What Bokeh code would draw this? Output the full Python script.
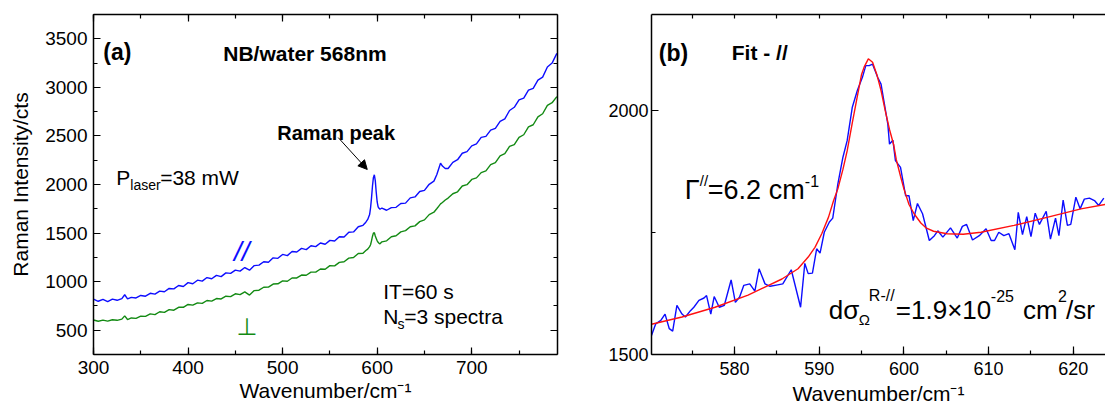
from bokeh.plotting import figure
from bokeh.layouts import row
from bokeh.models import (Range1d, LinearAxis, SingleIntervalTicker, Label,
                          Arrow, NormalHead, ColumnDataSource)
from bokeh.embed import file_html
from bokeh.resources import INLINE

# ---------------- data: panel (a) ----------------
wavenumber_a = [300, 305, 310, 315, 320, 325, 330, 333, 336, 340, 345, 350, 355, 360, 365,
                370, 375, 380, 385, 390, 395, 400, 405, 410, 415, 420, 425, 430, 435, 440,
                445, 450, 455, 460, 465, 470, 475, 480, 485, 490, 495, 500, 505, 510, 515,
                520, 525, 530, 535, 540, 545, 550, 555, 560, 565, 570, 575, 580, 585, 588,
                590, 592, 593, 594, 595, 596, 597, 598, 599, 600, 601, 602, 603, 605, 610,
                615, 620, 625, 630, 635, 640, 645, 650, 655, 660, 663, 665, 667, 669, 672,
                675, 680, 685, 690, 695, 700, 705, 710, 715, 720, 725, 730, 735, 740, 745,
                750, 755, 760, 765, 770, 775, 780, 785, 790]
parallel_a = [820, 798, 818, 795, 820, 808, 826, 865, 822, 838, 832, 858, 850, 880, 872,
              902, 896, 930, 925, 960, 950, 990, 978, 1015, 1005, 1042, 1030, 1065, 1052, 1090,
              1085, 1118, 1108, 1145, 1118, 1165, 1170, 1205, 1200, 1245, 1240, 1280, 1268, 1310, 1305,
              1342, 1330, 1370, 1360, 1398, 1385, 1425, 1418, 1462, 1460, 1508, 1512, 1565, 1580, 1612,
              1640, 1690, 1760, 1860, 1980, 2070, 2100, 2040, 1920, 1820, 1770, 1755, 1745, 1758, 1735,
              1762, 1765, 1805, 1808, 1862, 1872, 1928, 1940, 2002, 2035, 2100, 2160, 2220, 2190, 2165,
              2165, 2228, 2255, 2322, 2338, 2398, 2418, 2485, 2495, 2560, 2578, 2650, 2675, 2762, 2795,
              2872, 2890, 2972, 2990, 3075, 3105, 3210, 3250, 3350]
perpendicular_a = [605, 592, 604, 594, 608, 602, 614, 648, 610, 626, 622, 645, 642, 668, 660,
                   690, 684, 712, 706, 736, 736, 765, 758, 782, 776, 806, 800, 826, 822, 850,
                   846, 875, 866, 895, 862, 908, 912, 942, 944, 975, 978, 1008, 1004, 1038, 1038,
                   1068, 1066, 1098, 1098, 1130, 1128, 1165, 1162, 1198, 1205, 1242, 1248, 1290, 1292, 1320,
                   1335, 1360, 1380, 1420, 1465, 1500, 1505, 1470, 1445, 1420, 1405, 1395, 1390, 1410, 1420,
                   1462, 1472, 1512, 1525, 1565, 1574, 1618, 1636, 1690, 1715, 1750, 1775, 1800, 1815, 1840,
                   1860, 1905, 1925, 1985, 1998, 2052, 2068, 2122, 2140, 2204, 2225, 2295, 2318, 2392, 2410,
                   2485, 2512, 2594, 2615, 2696, 2728, 2815, 2842, 2905]

# ---------------- data: panel (b) ----------------
wavenumber_b = [570.2, 570.7, 571.3, 571.8, 572.3, 572.7, 573.2, 573.8, 574.2, 574.8, 575.2, 575.8,
                576.4, 576.7, 577.2, 577.6, 578.2, 578.8, 579.6, 580.1, 580.6, 581.1, 581.8, 582.4,
                582.9, 583.6, 584.2, 585.1, 585.7, 586.7, 587.8, 588.3, 588.7, 589.2, 589.7, 590.1,
                590.6, 591.2, 591.6, 592.2, 592.8, 593.3, 593.9, 594.5, 595.1, 595.5, 595.9, 596.3,
                596.9, 597.3, 597.7, 598.1, 598.3, 598.7, 599.0, 599.6, 600.2, 600.6, 601.1, 601.6,
                602.2, 603.0, 603.6, 604.0, 604.6, 605.5, 606.3, 606.9, 607.4, 608.1, 608.9, 609.7,
                610.3, 610.7, 611.2, 611.8, 612.4, 613.1, 613.5, 614.0, 614.5, 615.0, 615.5, 616.0,
                616.8, 617.3, 617.9, 618.3, 618.8, 619.3, 619.7, 620.3, 620.8, 621.3, 621.9, 622.5,
                623.0, 623.6]
intensity_b = [1539, 1563, 1570, 1583, 1553, 1548, 1601, 1583, 1577, 1590, 1597, 1611,
               1616, 1621, 1583, 1619, 1597, 1601, 1653, 1607, 1618, 1642, 1645, 1630,
               1676, 1645, 1640, 1643, 1645, 1674, 1597, 1687, 1666, 1667, 1717, 1708,
               1751, 1772, 1780, 1850, 1905, 1939, 2007, 2042, 2069, 2093, 2093, 2096,
               2069, 2055, 2014, 1973, 1932, 1940, 1898, 1884, 1826, 1826, 1775, 1810,
               1789, 1734, 1744, 1754, 1741, 1760, 1739, 1763, 1767, 1735, 1744, 1758,
               1734, 1734, 1751, 1744, 1748, 1715, 1792, 1746, 1783, 1742, 1790, 1767,
               1794, 1737, 1780, 1744, 1817, 1765, 1767, 1823, 1799, 1819, 1821, 1816,
               1806, 1821]
fit_x = [570.2, 573.8, 577.7, 581.6, 585.6, 587.5, 588.7, 589.5, 590.3, 591.1, 591.7, 592.2,
         592.8, 593.3, 593.9, 594.5, 595.0, 595.3, 595.8, 596.3, 596.8, 597.3, 597.8, 598.3,
         598.8, 599.1, 599.6, 600.0, 600.6, 601.2, 602.0, 602.6, 603.5, 605.1, 607.0, 609.1,
         613.0, 617.0, 620.9, 623.8]
fit_y = [1562, 1577, 1597, 1622, 1655, 1676, 1700, 1720, 1748, 1782, 1816, 1840,
         1880, 1918, 1975, 2030, 2075, 2090, 2107, 2100, 2075, 2042, 2000, 1962,
         1930, 1900, 1866, 1840, 1808, 1789, 1770, 1760, 1753, 1748, 1747, 1751,
         1765, 1782, 1799, 1808]

FONT = "Liberation Sans"
BLUE = "#0d0dff"
GREEN = "#138a13"


def style_axis(ax, labels=True, size="19px", major_in=7, minor_in=4, standoff=6):
    ax.axis_line_width = 1.5
    ax.axis_line_color = "black"
    ax.major_tick_in = major_in
    ax.major_tick_out = 0
    ax.minor_tick_in = minor_in
    ax.minor_tick_out = 0
    ax.major_tick_line_width = 1.2
    ax.minor_tick_line_width = 1.2
    ax.major_tick_line_color = "black"
    ax.minor_tick_line_color = "black"
    ax.major_label_text_font = FONT
    ax.axis_label_text_font = FONT
    ax.axis_label_text_font_style = "normal"
    ax.axis_label_text_font_size = "21px"
    ax.axis_label_text_color = "black"
    if labels:
        ax.major_label_text_color = "black"
        ax.major_label_text_font_size = size
        ax.major_label_standoff = standoff
    else:
        ax.major_label_text_color = None
        ax.major_label_text_font_size = "1px"
        ax.major_label_standoff = 0


def add_label(p, x, y, text, size, color="black", bold=False, font=FONT, italic=False):
    style = "bold" if bold else ("italic" if italic else "normal")
    p.add_layout(Label(x=x, y=y, text=text, text_font=font, text_font_size=size,
                       text_font_style=style, text_color=color,
                       text_baseline="alphabetic", text_align="left"))


# ================= panel (a) =================
pa = figure(width=600, height=411, x_range=Range1d(300, 790.7), y_range=Range1d(250, 3750),
            output_backend="svg", toolbar_location=None,
            min_border_left=93, min_border_right=43, min_border_top=14, min_border_bottom=54)
pa.outline_line_color = None
pa.grid.grid_line_color = None

pa.xaxis.ticker = SingleIntervalTicker(interval=100, num_minor_ticks=2)
pa.yaxis.ticker = SingleIntervalTicker(interval=500, num_minor_ticks=2)
style_axis(pa.xaxis[0], size="19px", standoff=6)
style_axis(pa.yaxis[0], size="19px", standoff=6)
pa.xaxis[0].axis_label = "Wavenumber/cm\u207b\u00b9"
pa.xaxis[0].axis_label_standoff = 2
pa.yaxis[0].axis_label = "Raman Intensity/cts"
pa.yaxis[0].axis_label_standoff = 10

top_a = LinearAxis(ticker=SingleIntervalTicker(interval=100, num_minor_ticks=2))
style_axis(top_a, labels=False)
pa.add_layout(top_a, "above")
right_a = LinearAxis(ticker=SingleIntervalTicker(interval=500, num_minor_ticks=2))
style_axis(right_a, labels=False)
pa.add_layout(right_a, "right")

src_a = ColumnDataSource(dict(x=wavenumber_a, par=parallel_a, perp=perpendicular_a))
pa.line("x", "perp", source=src_a, line_color=GREEN, line_width=1.4)
pa.line("x", "par", source=src_a, line_color=BLUE, line_width=1.4)

add_label(pa, 310.3, 3366, "(a)", "23px", bold=True)
add_label(pa, 437.2, 3353, "NB/water 568nm", "21px", bold=True)
add_label(pa, 494.3, 2535, "Raman peak", "20px", bold=True)

# arrow pointing to the Raman peak of the parallel spectrum
peak_idx = [i for i, w in enumerate(wavenumber_a) if 585 <= w <= 610]
ipk = max(peak_idx, key=lambda i: parallel_a[i])
pa.add_layout(Arrow(end=NormalHead(size=9, fill_color="black", line_color="black", line_width=1),
                    x_start=558.8, y_start=2483,
                    x_end=wavenumber_a[ipk] - 7.5, y_end=parallel_a[ipk] + 55,
                    line_color="black", line_width=1))

add_label(pa, 324.0, 2072, "P", "21px")
add_label(pa, 338.9, 1990, "laser", "14px")
add_label(pa, 370.5, 2072, "=38 mW", "21px")

add_label(pa, 448.5, 1315, "//", "28px", color=BLUE, italic=True)
add_label(pa, 451.2, 532, "\u22a5", "24px", color=GREEN, font="DejaVu Sans")

add_label(pa, 606.4, 902, "IT=60 s", "21px")
add_label(pa, 606.4, 645, "N", "21px")
add_label(pa, 621.5, 563, "s", "14px")
add_label(pa, 628.6, 645, "=3 spectra", "21px")

# ================= panel (b) =================
pb = figure(width=505, height=411, x_range=Range1d(570.2, 623.8), y_range=Range1d(1500, 2198),
            output_backend="svg", toolbar_location=None,
            min_border_left=51, min_border_right=0, min_border_top=14, min_border_bottom=57)
pb.outline_line_color = None
pb.grid.grid_line_color = None

pb.xaxis.ticker = SingleIntervalTicker(interval=10, num_minor_ticks=2)
pb.yaxis.ticker = SingleIntervalTicker(interval=500, num_minor_ticks=2)
style_axis(pb.xaxis[0], size="18px", major_in=8, minor_in=4, standoff=7)
style_axis(pb.yaxis[0], size="18px", major_in=7, minor_in=4, standoff=3)
pb.xaxis[0].axis_label = "Wavenumber/cm\u207b\u00b9"
pb.xaxis[0].axis_label_standoff = 4

top_b = LinearAxis(ticker=SingleIntervalTicker(interval=5, num_minor_ticks=0))
style_axis(top_b, labels=False, major_in=4)
pb.add_layout(top_b, "above")

pb.line(wavenumber_b, intensity_b, line_color=BLUE, line_width=1.4)
pb.line(fit_x, fit_y, line_color="#ff1010", line_width=1.4)

add_label(pb, 571.06, 2119.6, "(b)", "23px", bold=True)
add_label(pb, 579.68, 2119.6, "Fit - //", "21px", bold=True)

add_label(pb, 574.13, 1838.5, "\u0393", "27px")
add_label(pb, 575.90, 1857, "//", "15px")
add_label(pb, 576.85, 1838.5, "=6.2 cm", "27px")
add_label(pb, 588.30, 1857, "-1", "16px")

add_label(pb, 591.13, 1592.3, "d\u03c3", "26px")
add_label(pb, 594.68, 1571.8, "\u03a9", "15px")
add_label(pb, 595.86, 1621, "R-//", "16px")
add_label(pb, 599.05, 1592.3, "=1.9\u00d710", "26px")
add_label(pb, 610.26, 1621, "-25", "16px")
add_label(pb, 614.05, 1592.3, "cm", "26px")
add_label(pb, 618.20, 1621, "2", "16px")
add_label(pb, 619.15, 1592.3, "/sr", "26px")

layout = row(pa, pb)
open("out.html", "w").write(file_html(layout, INLINE))
